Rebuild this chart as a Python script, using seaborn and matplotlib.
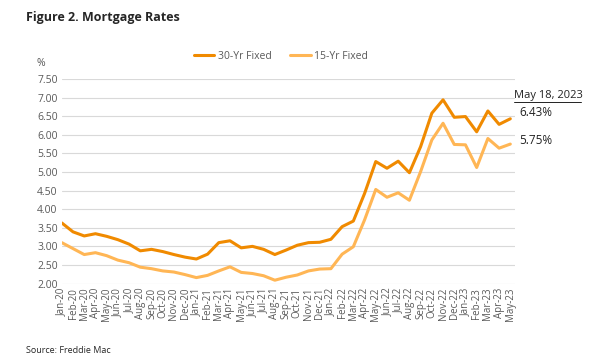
import numpy as np
import pandas as pd
import seaborn as sns
import matplotlib.pyplot as plt

# month labels Jan-20 .. May-23
months = ['Jan-20', 'Feb-20', 'Mar-20', 'Apr-20', 'May-20', 'Jun-20', 'Jul-20', 'Aug-20',
          'Sep-20', 'Oct-20', 'Nov-20', 'Dec-20', 'Jan-21', 'Feb-21', 'Mar-21', 'Apr-21',
          'May-21', 'Jun-21', 'Jul-21', 'Aug-21', 'Sep-21', 'Oct-21', 'Nov-21', 'Dec-21',
          'Jan-22', 'Feb-22', 'Mar-22', 'Apr-22', 'May-22', 'Jun-22', 'Jul-22', 'Aug-22',
          'Sep-22', 'Oct-22', 'Nov-22', 'Dec-22', 'Jan-23', 'Feb-23', 'Mar-23', 'Apr-23',
          'May-23']

fixed30 = [3.63, 3.39, 3.28, 3.34, 3.27, 3.18, 3.06, 2.88, 2.92, 2.86, 2.78, 2.71,
           2.66, 2.79, 3.10, 3.15, 2.96, 3.00, 2.92, 2.78, 2.90, 3.03, 3.10, 3.11,
           3.19, 3.53, 3.68, 4.42, 5.28, 5.10, 5.29, 4.98, 5.68, 6.58, 6.94, 6.47,
           6.49, 6.08, 6.64, 6.28, 6.43]

fixed15 = [3.10, 2.94, 2.78, 2.83, 2.75, 2.63, 2.56, 2.44, 2.40, 2.34, 2.31, 2.24,
           2.16, 2.22, 2.34, 2.45, 2.30, 2.27, 2.21, 2.09, 2.17, 2.23, 2.34, 2.39,
           2.40, 2.79, 2.99, 3.71, 4.53, 4.32, 4.44, 4.24, 5.01, 5.86, 6.31, 5.74,
           5.73, 5.12, 5.90, 5.64, 5.75]

df = pd.DataFrame({
    'pos': list(range(len(months))) * 2,
    'rate': fixed30 + fixed15,
    'series': ['30-Yr Fixed'] * len(months) + ['15-Yr Fixed'] * len(months),
})

sns.set_style('white')
plt.rcParams['font.family'] = ['Open Sans', 'DejaVu Sans']

fig = plt.figure(figsize=(6, 3.64), dpi=100)
ax = fig.add_axes([0.103, 0.221, 0.755, 0.562])

sns.lineplot(data=df, x='pos', y='rate', hue='series',
             palette={'30-Yr Fixed': '#F08A00', '15-Yr Fixed': '#FFB655'},
             linewidth=2.2, ax=ax, legend=True)

ax.set_xlim(0, 40.4)
ax.set_ylim(2.0, 7.5)
ax.set_yticks(np.arange(2.0, 7.51, 0.5))
ax.set_yticklabels([f'{v:.2f}' for v in np.arange(2.0, 7.51, 0.5)], fontsize=7.5, color='#595959')
ax.set_xticks(range(len(months)))
ax.set_xticklabels(months, rotation=90, fontsize=7, color='#595959')
ax.tick_params(axis='both', length=0, pad=3)
ax.grid(axis='y', color='#D9D9D9', linewidth=0.8)
for s in ax.spines.values():
    s.set_visible(False)
ax.set_xlabel('')
ax.set_ylabel('')

ax.legend(loc='center', bbox_to_anchor=(0.468, 0.846), bbox_transform=fig.transFigure,
          ncol=2, frameon=False, fontsize=7.5, handlelength=2.0, handletextpad=0.3,
          columnspacing=1.8, labelcolor='#595959')

fig.text(0.068, 0.818, '%', fontsize=7.5, color='#595959', ha='center')
fig.text(0.043, 0.953, 'Figure 2. Mortgage Rates', fontsize=9, fontweight='bold', va='center')
fig.text(0.043, 0.038, 'Source: Freddie Mac', fontsize=6.5, va='center')

fig.text(0.857, 0.738, 'May 18, 2023', fontsize=8, va='center', color='#222222')
fig.text(0.865, 0.69, '6.43%', fontsize=8.5, va='center', color='#222222')
fig.text(0.865, 0.615, '5.75%', fontsize=8.5, va='center', color='#222222')
fig.add_artist(plt.Line2D([0.857, 0.968], [0.721, 0.721], transform=fig.transFigure,
                          color='#222222', linewidth=0.7))

fig.savefig('out.png', dpi=100)
